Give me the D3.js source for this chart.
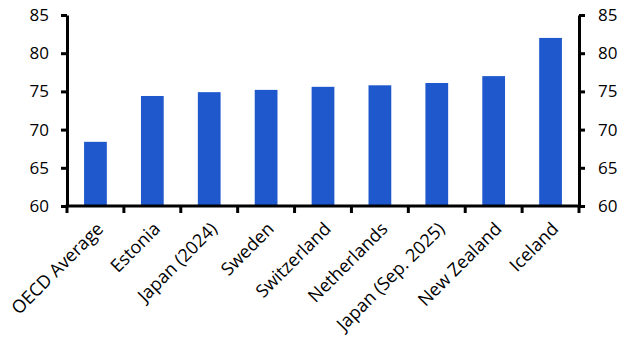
<!DOCTYPE html>
<html><head><meta charset="utf-8">
<script src="https://cdn.jsdelivr.net/npm/d3@7"></script>
<style>body{margin:0;background:#fff}svg text{font-family:"Open Sans","Noto Sans",sans-serif;fill:#000}</style>
</head><body><svg id="c" width="632" height="355"></svg>
<script>
const categories = ["OECD Average","Estonia","Japan (2024)","Sweden","Switzerland","Netherlands","Japan (Sep. 2025)","New Zealand","Iceland"];
const values = [68.4,74.4,74.9,75.2,75.6,75.8,76.1,77.0,82.0];
const yTicks = [60,65,70,75,80,85];

const svg = d3.select("#c");
const L = 67, R = 579, T = 15, B = 206;
const x = d3.scaleBand().domain(categories).range([L,R]).paddingInner(0.6).paddingOuter(0.3);
const y = d3.scaleLinear().domain([60,85]).range([B,T]);

svg.append("g").selectAll("rect").data(categories).join("rect")
  .attr("x", d=>x(d)).attr("width", x.bandwidth())
  .attr("y", (d,i)=>y(values[i])).attr("height",(d,i)=>B-y(values[i]))
  .attr("fill","#1f58cc");

const fs = "17px";
const la = svg.append("g").attr("transform",`translate(${L},0)`)
  .call(d3.axisLeft(y).tickValues(yTicks).tickSize(6).tickPadding(12).tickSizeOuter(0));
const ra = svg.append("g").attr("transform",`translate(${R},0)`)
  .call(d3.axisRight(y).tickValues(yTicks).tickSize(6).tickPadding(13).tickSizeOuter(0));
[la,ra].forEach(a=>{
  a.selectAll("text").style("font-size",fs);
  a.selectAll("line,path").attr("stroke","#000").attr("stroke-width",3);
});

const boundaries = d3.range(categories.length+1).map(i=>L+i*(R-L)/categories.length);
const bg = svg.append("g");
bg.append("line").attr("x1",L-1.5).attr("x2",R+1.5).attr("y1",B).attr("y2",B).attr("stroke","#000").attr("stroke-width",3);
bg.selectAll("line.t").data(boundaries).join("line").attr("class","t")
  .attr("x1",d=>d).attr("x2",d=>d).attr("y1",B).attr("y2",B+7).attr("stroke","#000").attr("stroke-width",3);
bg.selectAll("text").data(categories).join("text")
  .attr("transform",d=>`translate(${x(d)+x.bandwidth()/2},${B+15}) rotate(-45)`)
  .attr("text-anchor","end").attr("dy","0.71em")
  .style("font-size","18px").text(d=>d);
</script></body></html>
